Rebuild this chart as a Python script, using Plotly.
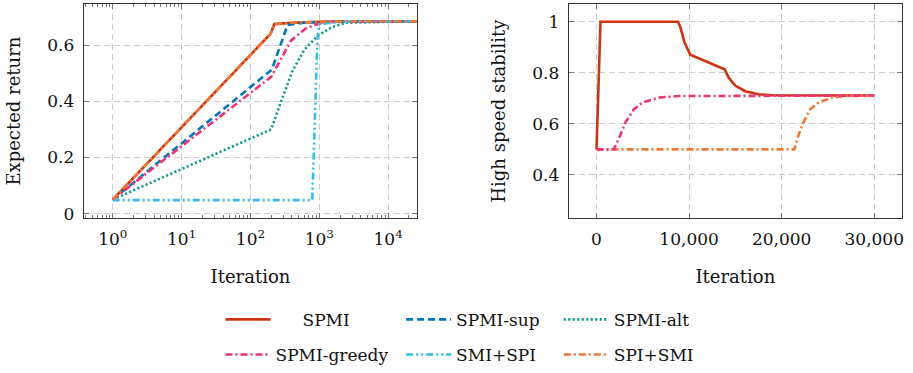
import plotly.graph_objects as go

# ---------------- data: left panel (Expected return vs Iteration, log x) ----------------
er_x_spmi = [1, 195, 223, 400, 1000, 3000, 30000]
er_y_spmi = [0.05, 0.64, 0.675, 0.68, 0.683, 0.685, 0.685]

er_x_sup = [1, 205, 345, 600, 3000, 30000]
er_y_sup = [0.05, 0.513, 0.672, 0.68, 0.685, 0.685]

er_x_alt = [1, 200, 277, 407, 600, 950, 1550, 2500, 30000]
er_y_alt = [0.05, 0.30, 0.398, 0.508, 0.582, 0.634, 0.665, 0.68, 0.685]

er_x_greedy = [1, 200, 390, 640, 940, 1500, 30000]
er_y_greedy = [0.05, 0.487, 0.617, 0.66, 0.675, 0.683, 0.685]

er_x_smispi = [1, 790, 940, 1000, 1500, 3000, 30000]
er_y_smispi = [0.048, 0.048, 0.623, 0.675, 0.68, 0.685, 0.685]

er_x_spismi = [1, 195, 223, 400, 1000, 3000, 30000]
er_y_spismi = [0.05, 0.64, 0.675, 0.68, 0.683, 0.685, 0.685]

# ---------------- data: right panel (High speed stability vs Iteration) ----------------
hs_x_spmi = [0, 430, 8800, 9050, 9500, 10130, 13830, 14260, 14980, 16060, 17490, 19000, 30000]
hs_y_spmi = [0.5, 1.0, 1.0, 0.98, 0.92, 0.871, 0.814, 0.782, 0.75, 0.728, 0.716, 0.712, 0.711]

hs_x_greedy = [0, 1860, 2400, 3120, 4020, 4920, 6710, 8870, 30000]
hs_y_greedy = [0.5, 0.5, 0.541, 0.605, 0.656, 0.683, 0.703, 0.709, 0.711]

hs_x_spismi = [0, 21370, 21800, 22340, 23060, 23960, 25390, 26830, 30000]
hs_y_spismi = [0.5, 0.5, 0.554, 0.605, 0.656, 0.683, 0.703, 0.709, 0.711]

# ---------------- tick labels ----------------
er_xtick_vals = [1, 10, 100, 1000, 10000]
er_xtick_text = ["10<sup>0</sup>", "10<sup>1</sup>", "10<sup>2</sup>", "10<sup>3</sup>", "10<sup>4</sup>"]
er_ytick_vals = [0, 0.2, 0.4, 0.6]
er_ytick_text = ["0", "0.2", "0.4", "0.6"]
hs_xtick_vals = [0, 10000, 20000, 30000]
hs_ytick_vals = [0.4, 0.6, 0.8, 1.0]
hs_ytick_text = ["0.4", "0.6", "0.8", "1"]

# ---------------- styles ----------------
C_SPMI = "#CC3311"
C_SUP = "#0077BB"
C_ALT = "#009988"
C_GREEDY = "#EE3377"
C_SMISPI = "#33BBEE"
C_SPISMI = "#EE7733"
LW = 2.6
D_SUP = "7px,4px"
D_ALT = "2px,2.5px"
D_GREEDY = "7px,3px,2px,3px"
D_SMISPI = "7px,3px,2px,3px,2px,3px"
D_SPISMI = "7px,3px,2px,3px"

SERIF = "DejaVu Serif"

fig = go.Figure()

def add(x, y, name, color, dash, xa, ya, legend, showlegend, label=None):
    fig.add_trace(go.Scatter(
        x=x, y=y, mode="lines", name=label if label else name,
        line=dict(color=color, width=LW, dash=dash),
        xaxis=xa, yaxis=ya, legend=legend, showlegend=showlegend,
        legendgroup=name, hoverinfo="skip"))

# left panel
add(er_x_spmi, er_y_spmi, "SPMI", C_SPMI, "solid", "x", "y", "legend", True,
    "\u00a0\u00a0\u00a0\u00a0\u00a0SPMI")
add(er_x_sup, er_y_sup, "SPMI-sup", C_SUP, D_SUP, "x", "y", "legend2", True)
add(er_x_alt, er_y_alt, "SPMI-alt", C_ALT, D_ALT, "x", "y", "legend3", True)
add(er_x_greedy, er_y_greedy, "SPMI-greedy", C_GREEDY, D_GREEDY, "x", "y", "legend", True)
add(er_x_smispi, er_y_smispi, "SMI+SPI", C_SMISPI, D_SMISPI, "x", "y", "legend2", True)
add(er_x_spismi, er_y_spismi, "SPI+SMI", C_SPISMI, D_SPISMI, "x", "y", "legend3", True)

# right panel
add(hs_x_spmi, hs_y_spmi, "SPMI", C_SPMI, "solid", "x2", "y2", "legend", False)
add(hs_x_spismi, hs_y_spismi, "SPI+SMI", C_SPISMI, D_SPISMI, "x2", "y2", "legend3", False)
add(hs_x_greedy, hs_y_greedy, "SPMI-greedy", C_GREEDY, D_GREEDY, "x2", "y2", "legend", False)

W, H = 913, 373
ydom = [1 - 225 / H, 1 - 4 / H]

axis_common = dict(
    showline=True, linecolor="#333333", linewidth=1.2, mirror="allticks",
    ticks="inside", ticklen=5, tickcolor="#777777", tickwidth=1,
    showgrid=True, gridcolor="#cccccc", griddash="6px,4px", gridwidth=1,
    zeroline=False, tickfont=dict(family=SERIF, size=17, color="#111"),
    title_font=dict(family=SERIF, size=18, color="#111"),
)

legend_common = dict(
    orientation="v", xanchor="left", yanchor="top",
    font=dict(family=SERIF, size=17, color="#111"),
    bgcolor="rgba(0,0,0,0)", borderwidth=0, itemwidth=45,
    tracegroupgap=10, itemclick=False, itemdoubleclick=False,
)

fig.update_layout(
    width=W, height=H, margin=dict(l=0, r=0, t=0, b=0),
    plot_bgcolor="white", paper_bgcolor="white",
    xaxis=dict(axis_common, domain=[84 / W, 418 / W], type="log",
               range=[-0.42, 4.42], tickvals=er_xtick_vals, ticktext=er_xtick_text,
               ticklabelstandoff=5,
               minor=dict(ticks="inside", ticklen=3, tickcolor="#777777",
                          tickvals=[m * 10 ** e for e in range(-1, 5) for m in range(2, 10)],
                          showgrid=False),
               title=dict(text="Iteration", standoff=22), anchor="y"),
    yaxis=dict(axis_common, domain=ydom, range=[-0.017, 0.747],
               tickvals=er_ytick_vals, ticktext=er_ytick_text, ticklabelstandoff=5,
               title=dict(text="Expected return", standoff=21), anchor="x"),
    xaxis2=dict(axis_common, domain=[570 / W, 904 / W], range=[-3000, 33000],
                tickvals=hs_xtick_vals, tickformat=",d", ticklabelstandoff=5,
                title=dict(text="Iteration", standoff=22), anchor="y2"),
    yaxis2=dict(axis_common, domain=ydom, range=[0.23, 1.07],
                tickvals=hs_ytick_vals, ticktext=hs_ytick_text, ticklabelstandoff=5,
                title=dict(text="High speed stability", standoff=21), anchor="x2"),
    legend=dict(legend_common, x=221 / W, y=1 - 311 / H),
    legend2=dict(legend_common, x=402 / W, y=1 - 311 / H),
    legend3=dict(legend_common, x=560 / W, y=1 - 311 / H),
    showlegend=True,
)

fig.write_html("out.html")
